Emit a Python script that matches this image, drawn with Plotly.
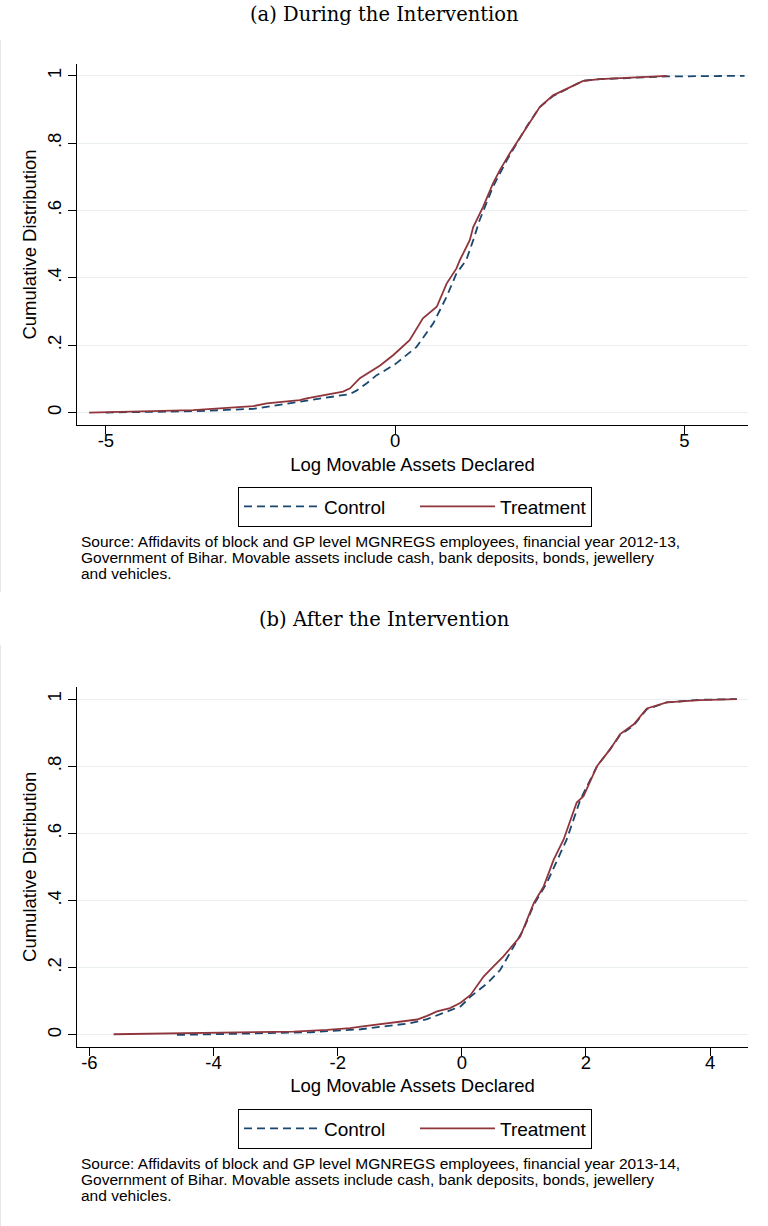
import plotly.graph_objects as go

# ---------------- data ----------------
# Panel (a): During the Intervention
a_treat_x = [-5.29, -3.49, -2.45, -2.22, -1.65, -1.53, -0.90, -0.78, -0.61, -0.26, -0.03, 0.25, 0.48, 0.72,
             0.89, 1.06, 1.12, 1.29, 1.35, 1.52, 1.69, 1.81, 1.98, 2.16, 2.39, 2.50, 2.73, 2.96, 3.25, 3.54, 4.70]
a_treat_y = [0.0, 0.007, 0.019, 0.027, 0.037, 0.042, 0.062, 0.072, 0.102, 0.140, 0.171, 0.215, 0.280, 0.314,
             0.383, 0.428, 0.453, 0.512, 0.551, 0.611, 0.680, 0.720, 0.769, 0.818, 0.878, 0.907, 0.942, 0.962,
             0.985, 0.990, 1.0]
a_ctrl_x = [-5.0, -3.49, -2.45, -1.53, -0.90, -0.78, -0.67, -0.49, -0.32, -0.21, 0.02, 0.37, 0.66, 0.89, 1.06,
            1.23, 1.35, 1.46, 1.69, 1.93, 2.10, 2.27, 2.50, 2.73, 2.96, 3.25, 3.54, 4.70, 6.04]
a_ctrl_y = [0.0, 0.004, 0.011, 0.035, 0.051, 0.055, 0.065, 0.087, 0.111, 0.121, 0.146, 0.195, 0.265, 0.344,
            0.413, 0.453, 0.512, 0.571, 0.670, 0.749, 0.799, 0.848, 0.907, 0.940, 0.960, 0.985, 0.990, 0.998, 1.0]

# Panel (b): After the Intervention
b_treat_x = [-5.61, -4.59, -2.71, -2.17, -1.80, -1.63, -1.10, -0.72, -0.56, -0.40, -0.19, -0.02, 0.14, 0.35,
             0.51, 0.67, 0.94, 1.16, 1.32, 1.48, 1.64, 1.85, 1.96, 2.18, 2.39, 2.55, 2.77, 2.98, 3.30, 3.84, 4.43]
b_treat_y = [0.002, 0.005, 0.010, 0.015, 0.020, 0.025, 0.037, 0.046, 0.057, 0.070, 0.080, 0.096, 0.119, 0.174,
             0.204, 0.234, 0.293, 0.393, 0.443, 0.522, 0.582, 0.692, 0.711, 0.801, 0.851, 0.896, 0.925, 0.972,
             0.990, 0.997, 1.0]
b_ctrl_x = [-4.59, -2.44, -1.63, -0.83, -0.56, -0.29, -0.02, 0.14, 0.41, 0.62, 0.83, 0.99, 1.16, 1.37, 1.59,
            1.69, 1.91, 2.18, 2.39, 2.55, 2.77, 2.98, 3.30, 3.84, 4.43]
b_ctrl_y = [0.0, 0.008, 0.017, 0.035, 0.047, 0.065, 0.085, 0.114, 0.154, 0.194, 0.264, 0.313, 0.388, 0.453,
            0.542, 0.582, 0.701, 0.801, 0.851, 0.893, 0.922, 0.970, 0.990, 0.998, 1.0]

series_names = ["Control", "Treatment"]
y_tickvals = [0, 0.2, 0.4, 0.6, 0.8, 1]
y_ticktext = ["0", ".2", ".4", ".6", ".8", "1"]
a_xticks = [-5, 0, 5]
a_xticktext = ["-5", "0", "5"]
b_xticks = [-6, -4, -2, 0, 2, 4]
b_xticktext = ["-6", "-4", "-2", "0", "2", "4"]
panel_titles = ["(a) During the Intervention", "(b) After the Intervention"]
x_title = "Log Movable Assets Declared"
y_title = "Cumulative Distribution"
notes_a = ["Source: Affidavits of block and GP level MGNREGS employees, financial year 2012-13,",
           "Government of Bihar. Movable assets include cash, bank deposits, bonds, jewellery",
           "and vehicles."]
notes_b = ["Source: Affidavits of block and GP level MGNREGS employees, financial year 2013-14,",
           "Government of Bihar. Movable assets include cash, bank deposits, bonds, jewellery",
           "and vehicles."]

# ---------------- styling ----------------
W, H = 768, 1226
NAVY = "#1a476f"
MAROON = "#90353b"
GRID = "#e9eff1"
SANS = "Liberation Sans, Arial, sans-serif"
SERIF = "DejaVu Serif, Liberation Serif, serif"


def py(p):  # pixel from top -> paper fraction
    return 1 - p / H


def px(p):
    return p / W


fig = go.Figure()

fig.add_trace(go.Scatter(x=a_ctrl_x, y=a_ctrl_y, mode="lines", name=series_names[0],
                         line=dict(color=NAVY, width=1.8, dash="8px,5px"), xaxis="x", yaxis="y", legend="legend"))
fig.add_trace(go.Scatter(x=a_treat_x, y=a_treat_y, mode="lines", name=series_names[1],
                         line=dict(color=MAROON, width=1.8), xaxis="x", yaxis="y", legend="legend"))
fig.add_trace(go.Scatter(x=b_ctrl_x, y=b_ctrl_y, mode="lines", name=series_names[0],
                         line=dict(color=NAVY, width=1.8, dash="8px,5px"), xaxis="x2", yaxis="y2", legend="legend2"))
fig.add_trace(go.Scatter(x=b_treat_x, y=b_treat_y, mode="lines", name=series_names[1],
                         line=dict(color=MAROON, width=1.8), xaxis="x2", yaxis="y2", legend="legend2"))

xdom = [px(77), px(748)]
common_x = dict(showline=True, linecolor="black", linewidth=1, ticks="outside", ticklen=8, tickcolor="black",
                showgrid=False, zeroline=False, tickfont=dict(family=SANS, size=18.5, color="black"),
                ticklabelstandoff=-9,
                title=dict(text=x_title, font=dict(family=SANS, size=18.5, color="black"), standoff=7))
common_y = dict(showline=True, linecolor="black", linewidth=1, ticks="outside", ticklen=8, tickcolor="black",
                showgrid=True, gridcolor=GRID, gridwidth=1, zeroline=False, tickangle=-90,
                tickvals=y_tickvals, ticktext=y_ticktext,
                tickfont=dict(family=SANS, size=18.5, color="black"),
                title=dict(text=y_title, font=dict(family=SANS, size=18.5, color="black"), standoff=2))

legend_common = dict(orientation="h", xanchor="center", yanchor="middle", bordercolor="black", borderwidth=1,
                     bgcolor="white", font=dict(family=SANS, size=19, color="black"), itemwidth=75,
                     entrywidth=86, entrywidthmode="pixels", traceorder="normal")

fig.update_layout(
    width=W, height=H, margin=dict(l=0, r=0, t=0, b=0), paper_bgcolor="white", plot_bgcolor="white",
    xaxis=dict(common_x, domain=xdom, range=[-5.50, 6.10], tickvals=a_xticks, ticktext=a_xticktext, anchor="y"),
    yaxis=dict(common_y, domain=[py(425), py(64)], range=[-0.037, 1.035], anchor="x"),
    xaxis2=dict(common_x, domain=xdom, range=[-6.20, 4.61], tickvals=b_xticks, ticktext=b_xticktext, anchor="y2"),
    yaxis2=dict(common_y, domain=[py(1046.7), py(687)], range=[-0.035, 1.036], anchor="x2"),
    legend=dict(legend_common, x=px(415), y=py(506.5)),
    legend2=dict(legend_common, x=px(415), y=py(1128.5)),
    showlegend=True,
)

for i, (ty, ny, notes) in enumerate([(13, 541, notes_a), (618, 1163, notes_b)]):
    fig.add_annotation(text=panel_titles[i], xref="paper", yref="paper", x=0.5, y=py(ty + 1), xanchor="center",
                       yanchor="middle", showarrow=False, font=dict(family=SERIF, size=19.5, color="black"))
    for k, line in enumerate(notes):
        fig.add_annotation(text=line, xref="paper", yref="paper", x=px(79), y=py(ny + 16 * k), xanchor="left",
                           yanchor="middle", align="left", showarrow=False,
                           font=dict(family=SANS, size=15.5, color="black"))

# faint graph-region outlines on the left edge
for y0, y1 in [(40, 592), (645, 1226)]:
    fig.add_shape(type="line", xref="paper", yref="paper", x0=px(0.5), x1=px(0.5), y0=py(y0), y1=py(y1),
                  line=dict(color="#e4e8ea", width=1))

fig.write_html("out.html", post_script="document.body.style.margin='0';",
               config={"displayModeBar": False})
